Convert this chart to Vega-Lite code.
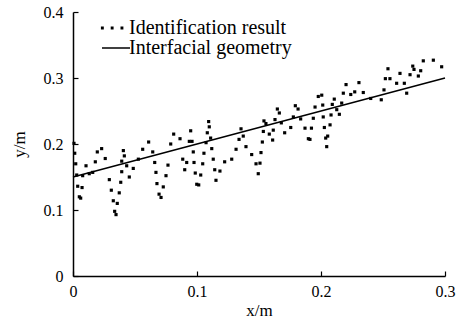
{
  "$schema": "https://vega.github.io/schema/vega-lite/v6.json",
  "width": 372,
  "height": 264,
  "autosize": {"type": "none"},
  "padding": {"left": 73, "top": 12, "right": 20, "bottom": 48},
  "background": "white",
  "config": {
    "view": {"stroke": null},
    "font": "Liberation Serif",
    "axis": {
      "grid": false,
      "domainColor": "black",
      "domainWidth": 1.5,
      "tickColor": "black",
      "tickWidth": 1.2,
      "tickSize": -5,
      "labelFont": "Liberation Serif",
      "labelFontSize": 16,
      "labelColor": "black",
      "titleFont": "Liberation Serif",
      "titleFontSize": 17,
      "titleFontWeight": "normal",
      "titleColor": "black"
    }
  },
  "datasets": {
    "line": [
      {"x": 0, "y": 0.15, "series": "Interfacial geometry"},
      {"x": 0.3, "y": 0.3, "series": "Interfacial geometry"}
    ],
    "points": [
      {"x": 0.0008, "y": 0.201}, {"x": 0.0014, "y": 0.186}, {"x": 0.0022, "y": 0.170}, {"x": 0.0030, "y": 0.153},
      {"x": 0.0038, "y": 0.136}, {"x": 0.0051, "y": 0.120}, {"x": 0.0062, "y": 0.118}, {"x": 0.0073, "y": 0.134},
      {"x": 0.0078, "y": 0.152}, {"x": 0.0105, "y": 0.167}, {"x": 0.0131, "y": 0.155}, {"x": 0.0159, "y": 0.157},
      {"x": 0.0180, "y": 0.173}, {"x": 0.0196, "y": 0.188}, {"x": 0.0231, "y": 0.193}, {"x": 0.0260, "y": 0.178},
      {"x": 0.0293, "y": 0.146}, {"x": 0.0309, "y": 0.130}, {"x": 0.0325, "y": 0.114}, {"x": 0.0336, "y": 0.098},
      {"x": 0.0347, "y": 0.093}, {"x": 0.0357, "y": 0.110}, {"x": 0.0373, "y": 0.126}, {"x": 0.0385, "y": 0.142},
      {"x": 0.0393, "y": 0.158}, {"x": 0.0393, "y": 0.174}, {"x": 0.0406, "y": 0.190}, {"x": 0.0414, "y": 0.182},
      {"x": 0.0433, "y": 0.167}, {"x": 0.0454, "y": 0.150}, {"x": 0.0486, "y": 0.163}, {"x": 0.0527, "y": 0.177},
      {"x": 0.0562, "y": 0.192}, {"x": 0.0610, "y": 0.203}, {"x": 0.0643, "y": 0.188}, {"x": 0.0659, "y": 0.172},
      {"x": 0.0669, "y": 0.157}, {"x": 0.0677, "y": 0.140}, {"x": 0.0694, "y": 0.124}, {"x": 0.0710, "y": 0.119},
      {"x": 0.0728, "y": 0.135}, {"x": 0.0750, "y": 0.152}, {"x": 0.0766, "y": 0.168}, {"x": 0.0788, "y": 0.200},
      {"x": 0.0812, "y": 0.215}, {"x": 0.0863, "y": 0.208}, {"x": 0.0885, "y": 0.177}, {"x": 0.0901, "y": 0.161},
      {"x": 0.0917, "y": 0.172}, {"x": 0.0938, "y": 0.204}, {"x": 0.0949, "y": 0.220}, {"x": 0.0960, "y": 0.204},
      {"x": 0.0970, "y": 0.188}, {"x": 0.0976, "y": 0.172}, {"x": 0.0986, "y": 0.156}, {"x": 0.0998, "y": 0.139},
      {"x": 0.1014, "y": 0.138}, {"x": 0.1030, "y": 0.153}, {"x": 0.1046, "y": 0.170}, {"x": 0.1056, "y": 0.186},
      {"x": 0.1073, "y": 0.202}, {"x": 0.1083, "y": 0.217}, {"x": 0.1094, "y": 0.234}, {"x": 0.1099, "y": 0.226},
      {"x": 0.1110, "y": 0.209}, {"x": 0.1119, "y": 0.193}, {"x": 0.1131, "y": 0.177}, {"x": 0.1143, "y": 0.161},
      {"x": 0.1153, "y": 0.145}, {"x": 0.1185, "y": 0.159}, {"x": 0.1223, "y": 0.173}, {"x": 0.1280, "y": 0.177},
      {"x": 0.1315, "y": 0.192}, {"x": 0.1339, "y": 0.207}, {"x": 0.1355, "y": 0.223}, {"x": 0.1373, "y": 0.212},
      {"x": 0.1395, "y": 0.196}, {"x": 0.1441, "y": 0.184}, {"x": 0.1476, "y": 0.170}, {"x": 0.1494, "y": 0.155},
      {"x": 0.1508, "y": 0.171}, {"x": 0.1516, "y": 0.187}, {"x": 0.1527, "y": 0.203}, {"x": 0.1535, "y": 0.219},
      {"x": 0.1540, "y": 0.235}, {"x": 0.1556, "y": 0.231}, {"x": 0.1583, "y": 0.215}, {"x": 0.1610, "y": 0.206},
      {"x": 0.1615, "y": 0.221}, {"x": 0.1629, "y": 0.237}, {"x": 0.1648, "y": 0.253}, {"x": 0.1664, "y": 0.247},
      {"x": 0.1680, "y": 0.232}, {"x": 0.1707, "y": 0.217}, {"x": 0.1756, "y": 0.225}, {"x": 0.1777, "y": 0.241},
      {"x": 0.1793, "y": 0.258}, {"x": 0.1815, "y": 0.253}, {"x": 0.1836, "y": 0.238}, {"x": 0.1871, "y": 0.224},
      {"x": 0.1898, "y": 0.208}, {"x": 0.1911, "y": 0.207}, {"x": 0.1923, "y": 0.224}, {"x": 0.1938, "y": 0.239},
      {"x": 0.1952, "y": 0.256}, {"x": 0.1978, "y": 0.272}, {"x": 0.2006, "y": 0.274}, {"x": 0.2014, "y": 0.259},
      {"x": 0.2018, "y": 0.241}, {"x": 0.2027, "y": 0.225}, {"x": 0.2073, "y": 0.229}, {"x": 0.2038, "y": 0.209},
      {"x": 0.2054, "y": 0.212}, {"x": 0.2046, "y": 0.196}, {"x": 0.2081, "y": 0.244}, {"x": 0.2091, "y": 0.260},
      {"x": 0.2107, "y": 0.268}, {"x": 0.2127, "y": 0.252}, {"x": 0.2148, "y": 0.245}, {"x": 0.2167, "y": 0.262},
      {"x": 0.2180, "y": 0.277}, {"x": 0.2202, "y": 0.290}, {"x": 0.2240, "y": 0.275}, {"x": 0.2272, "y": 0.279},
      {"x": 0.2306, "y": 0.293}, {"x": 0.2341, "y": 0.278}, {"x": 0.2401, "y": 0.269}, {"x": 0.2486, "y": 0.267},
      {"x": 0.2508, "y": 0.282}, {"x": 0.2519, "y": 0.299}, {"x": 0.2556, "y": 0.299}, {"x": 0.2540, "y": 0.314},
      {"x": 0.2610, "y": 0.292}, {"x": 0.2637, "y": 0.307}, {"x": 0.2672, "y": 0.292}, {"x": 0.2691, "y": 0.277},
      {"x": 0.2718, "y": 0.305}, {"x": 0.2740, "y": 0.318}, {"x": 0.2750, "y": 0.313}, {"x": 0.2785, "y": 0.303},
      {"x": 0.2804, "y": 0.311}, {"x": 0.2825, "y": 0.326}, {"x": 0.2906, "y": 0.327}, {"x": 0.2973, "y": 0.317}
    ]
  },
  "encoding": {
    "x": {
      "field": "x", "type": "quantitative",
      "scale": {"domain": [0, 0.3], "nice": false, "zero": false},
      "axis": {"values": [0, 0.1, 0.2, 0.3], "format": "~g", "title": "x/m", "labelPadding": 12, "titlePadding": 3, "labelFlush": false}
    },
    "y": {
      "field": "y", "type": "quantitative",
      "scale": {"domain": [0, 0.4], "nice": false, "zero": false},
      "axis": {"values": [0, 0.1, 0.2, 0.3, 0.4], "format": "~g", "title": "y/m", "labelPadding": 15, "titlePadding": 15, "labelFlush": false}
    }
  },
  "layer": [
    {
      "data": {"name": "line"},
      "mark": {"type": "line", "color": "black", "strokeWidth": 1.5},
      "encoding": {
        "color": {
          "field": "series", "type": "nominal",
          "scale": {"domain": ["Identification result", "Interfacial geometry"], "range": ["black", "black"]},
          "legend": {
            "title": null,
            "orient": "none",
            "legendX": 33,
            "legendY": 6,
            "padding": 0,
            "symbolSize": 196,
            "labelOffset": 3,
            "labelFont": "Liberation Serif",
            "labelFontSize": 20,
            "labelLimit": 400,
            "labelColor": "black",
            "rowPadding": -3,
            "encode": {
              "symbols": {
                "update": {
                  "shape": {"signal": "datum.value === 'Interfacial geometry' ? 'M-2,0H2' : 'M-2.05,-0.1h0.2v0.2h-0.2z M-0.65,-0.1h0.2v0.2h-0.2z M0.75,-0.1h0.2v0.2h-0.2z'"},
                  "fill": {"value": "black"},
                  "stroke": {"value": "black"},
                  "strokeWidth": {"value": 1.5},
                  "opacity": {"value": 1}
                }
              }
            }
          }
        }
      }
    },
    {
      "data": {"name": "points"},
      "mark": {"type": "point", "shape": "square", "filled": true, "size": 10, "opacity": 1, "color": "black"},
      "encoding": {
        "color": {"datum": "Identification result"}
      }
    }
  ]
}
